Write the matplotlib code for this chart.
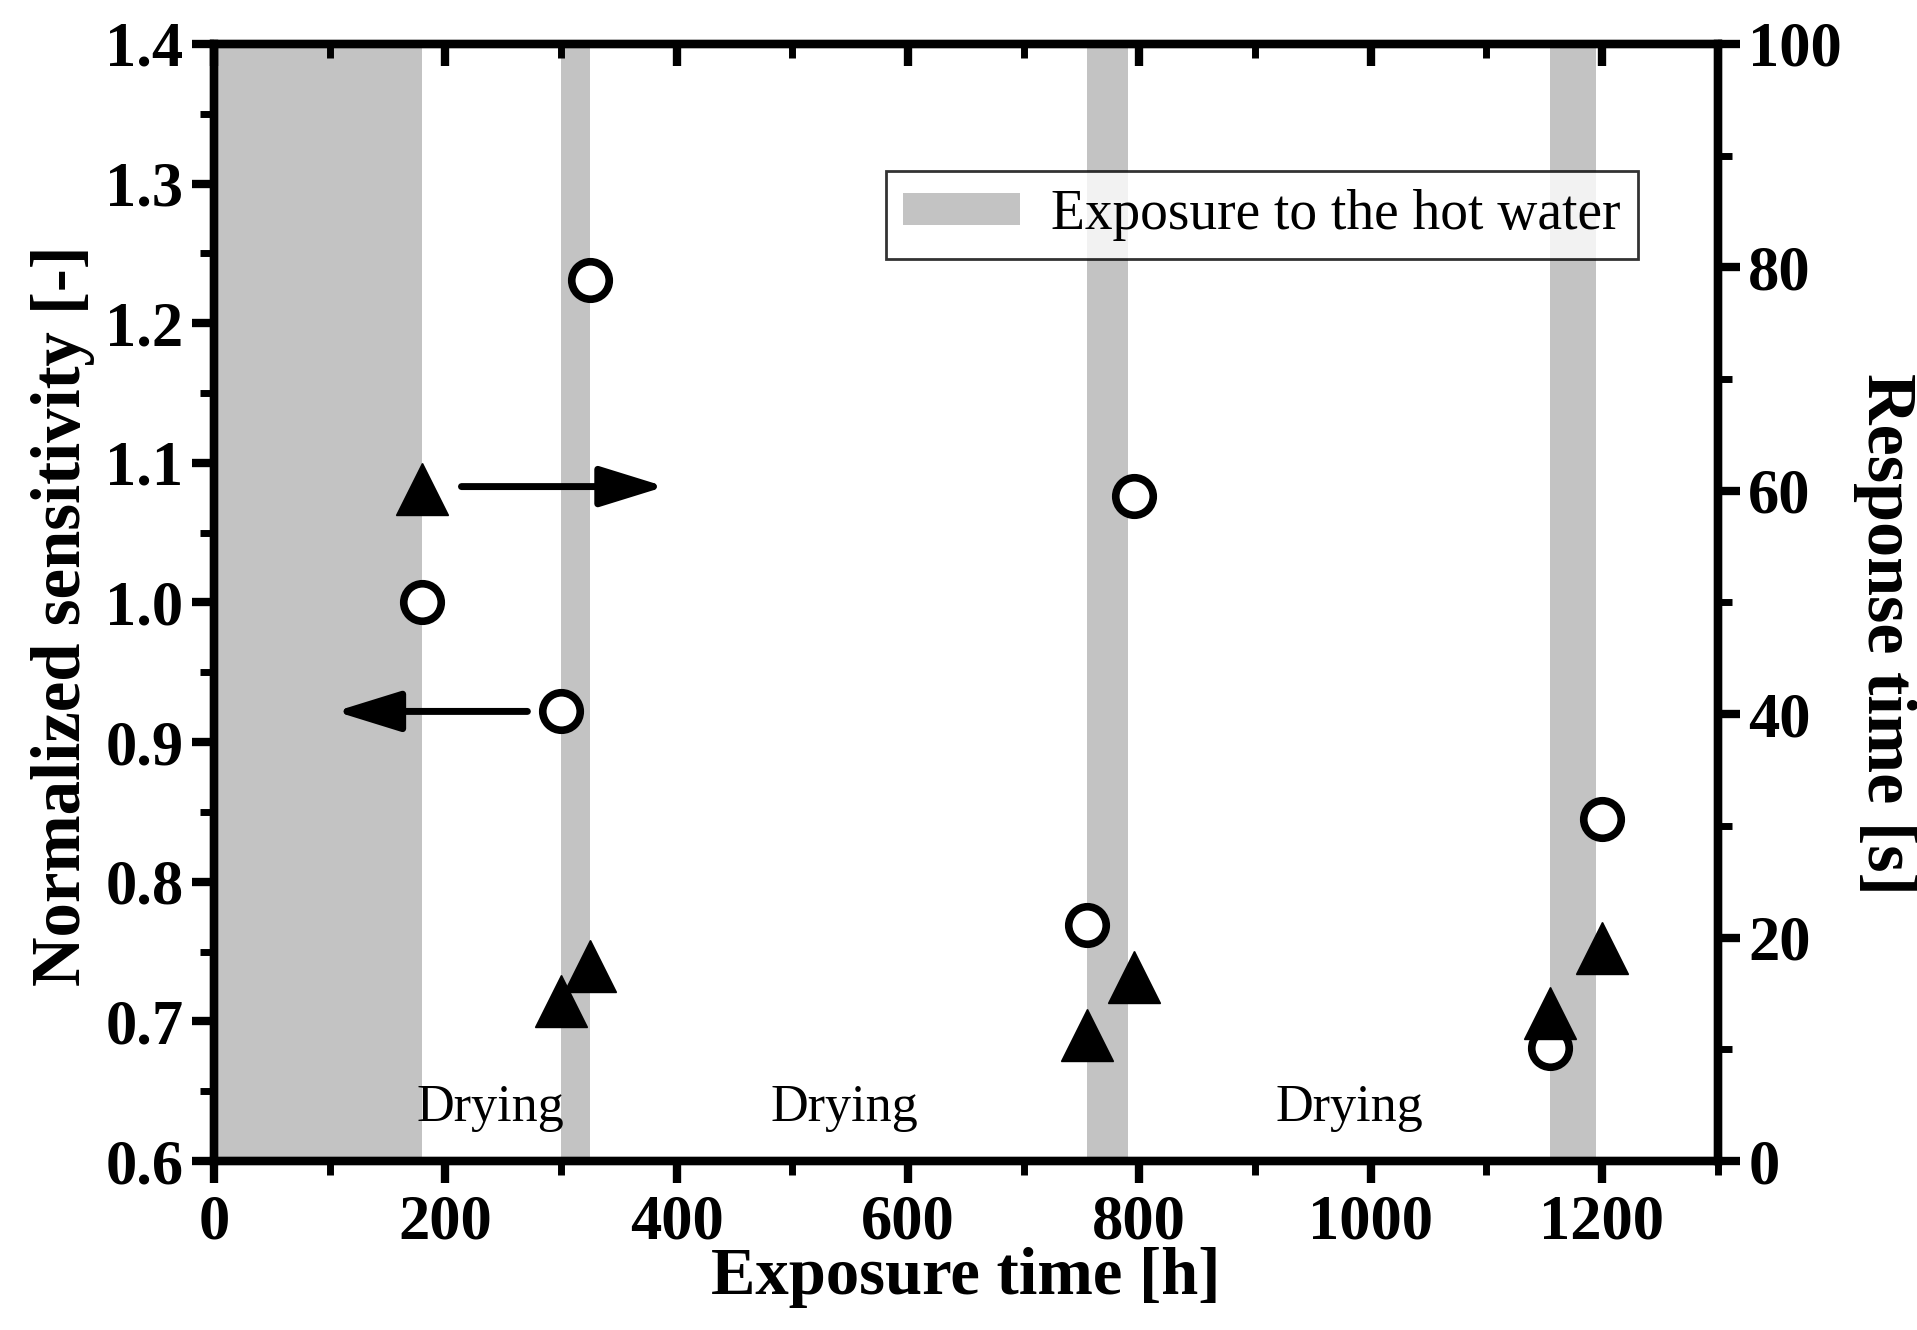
import matplotlib
matplotlib.use("Agg")
import matplotlib.pyplot as plt
from matplotlib.patches import Patch
from matplotlib.ticker import MultipleLocator

# ---- data ----
band_starts = [0, 300, 755, 1155]
band_ends = [180, 325, 790, 1195]

sens_x = [180, 300, 325, 755, 795, 1155, 1200]
sens_y = [1.00, 0.922, 1.231, 0.769, 1.076, 0.681, 0.845]

resp_x = [180, 300, 325, 755, 795, 1155, 1200]
resp_y = [60.2, 14.3, 17.5, 11.3, 16.5, 13.3, 19.1]

drying_x = [239, 545, 982]
drying_y = 0.638

xticks = [0, 200, 400, 600, 800, 1000, 1200]
left_yticks = [0.6, 0.7, 0.8, 0.9, 1.0, 1.1, 1.2, 1.3, 1.4]
right_yticks = [0, 20, 40, 60, 80, 100]

plt.rcParams['font.family'] = ['Liberation Serif', 'DejaVu Serif']

fig = plt.figure(figsize=(19.17, 13.30), dpi=100)
ax = fig.add_axes([0.1116, 0.127, 0.7844, 0.840])
ax2 = ax.twinx()

gray = '#c3c3c3'
for s, e in zip(band_starts, band_ends):
    ax.axvspan(s, e, color=gray, lw=0, zorder=0)

ax.plot(sens_x, sens_y, linestyle='none', marker='o', markersize=27,
        markerfacecolor='white', markeredgecolor='black', markeredgewidth=5.5, zorder=5)
ax2.plot(resp_x, resp_y, linestyle='none', marker='^', markersize=38,
         color='black', zorder=5)

# arrows
arrowprops = dict(arrowstyle='-|>,head_length=2.0,head_width=0.62', lw=5, color='black',
                  shrinkA=0, shrinkB=0, mutation_scale=20)
ax.annotate('', xy=(105, 0.922), xytext=(271, 0.922), arrowprops=arrowprops, zorder=6)
ax.annotate('', xy=(390, 1.083), xytext=(214, 1.083), arrowprops=arrowprops, zorder=6)

for dx in drying_x:
    ax.text(dx, drying_y, 'Drying', ha='center', va='center', fontsize=37.5)

ax.set_xlim(0, 1300)
ax.set_ylim(0.6, 1.4)
ax2.set_ylim(0, 100)

ax.set_xticks(xticks)
ax.set_yticks(left_yticks)
ax.set_yticklabels([f'{v:.1f}' for v in left_yticks])
ax2.set_yticks(right_yticks)
ax.xaxis.set_minor_locator(MultipleLocator(100))
ax.yaxis.set_minor_locator(MultipleLocator(0.05))
ax2.yaxis.set_minor_locator(MultipleLocator(10))

for a in (ax, ax2):
    for sp in a.spines.values():
        sp.set_linewidth(6)

ax.tick_params(axis='x', which='major', direction='out', length=16, width=6,
               labelsize=45, pad=8, top=True)
ax.tick_params(axis='x', which='minor', direction='out', length=10, width=5, top=True)
ax.tick_params(axis='y', which='major', direction='out', length=16, width=6,
               labelsize=45, pad=6)
ax.tick_params(axis='y', which='minor', direction='out', length=10, width=5)
ax2.tick_params(axis='y', which='major', direction='out', length=16, width=6,
                labelsize=45, pad=6)
ax2.tick_params(axis='y', which='minor', direction='out', length=10, width=5)
ax.xaxis.set_tick_params(which='both', labeltop=False)
for t in ax.xaxis.get_major_ticks() + ax.xaxis.get_minor_ticks():
    t.tick2line.set_marker(3)

for lab in ax.get_xticklabels() + ax.get_yticklabels() + ax2.get_yticklabels():
    lab.set_fontweight('bold')

ax.set_xlabel('Exposure time [h]', fontsize=48, fontweight='bold', labelpad=-4)
ax.set_ylabel('Normalized sensitivity [-]', fontsize=49.5, fontweight='bold', labelpad=7)
ax.yaxis.label.set_y(0.488)
ax2.set_ylabel('Response time [s]', fontsize=50.5, fontweight='bold', rotation=270,
               labelpad=54)
ax2.yaxis.label.set_y(0.472)

leg = ax2.legend(handles=[Patch(facecolor=gray, edgecolor='none',
                                label='Exposure to the hot water')],
                 loc='upper right', bbox_to_anchor=(0.947, 0.886), fontsize=40,
                 frameon=True, fancybox=False, edgecolor='black', borderpad=0.32,
                 handlelength=2.1, handleheight=0.5, handletextpad=0.55,
                 borderaxespad=0)
leg.get_frame().set_linewidth(2)

fig.savefig('out.png', dpi=100)
